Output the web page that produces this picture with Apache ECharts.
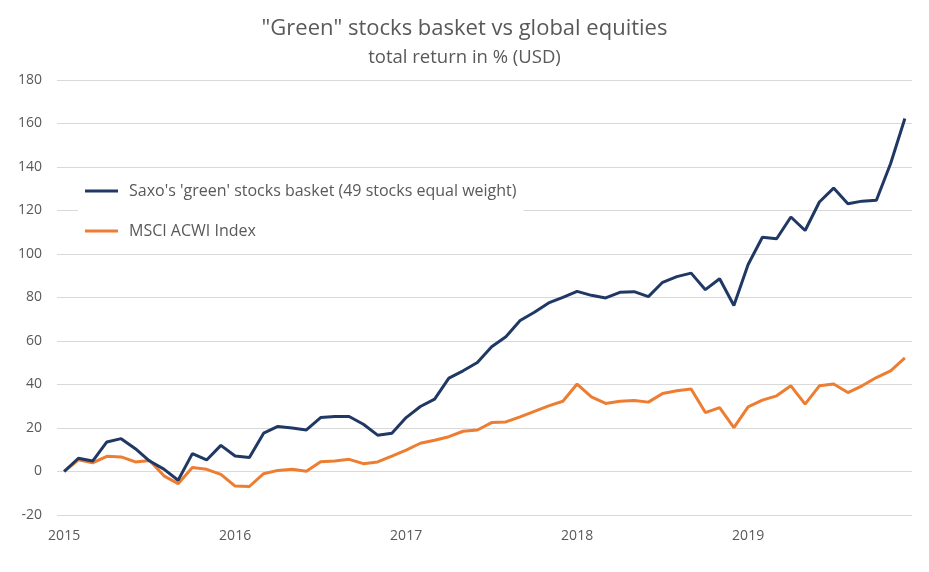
<!DOCTYPE html>
<html>
<head>
<meta charset="utf-8">
<script src="https://cdn.jsdelivr.net/npm/echarts@6/dist/echarts.min.js"></script>
<style>
html,body{margin:0;padding:0;background:#fff;}
#chart{width:929px;height:572px;}
</style>
</head>
<body>
<div id="chart"></div>
<script>
const years = ["2015", "2016", "2017", "2018", "2019"];
const months = ["01","02","03","04","05","06","07","08","09","10","11","12"];
const categories = [];
years.forEach(y => months.forEach(m => categories.push(y + "-" + m)));

const seriesNames = ["Saxo's 'green' stocks basket (49 stocks equal weight)", "MSCI ACWI Index"];

const greenBasket = [
  0, 6.1, 4.8, 13.6, 15.1, 10.5, 4.8, 1.1, -4.0, 8.2, 5.3, 12.0,
  7.1, 6.4, 17.6, 20.7, 20.0, 19.1, 24.8, 25.3, 25.3, 21.7, 16.7, 17.6,
  24.8, 29.9, 33.3, 42.9, 46.3, 50.1, 57.4, 62.0, 69.4, 73.2, 77.5, 80.1,
  82.8, 81.0, 79.8, 82.4, 82.7, 80.4, 87.0, 89.6, 91.2, 83.6, 88.6, 76.3,
  95.2, 107.7, 107.0, 117.0, 110.8, 123.9, 130.3, 123.1, 124.3, 124.7, 141.6, 162.3
];
const msciAcwi = [
  0, 5.4, 4.0, 7.0, 6.7, 4.4, 5.1, -2.0, -5.6, 1.8, 1.0, -1.3,
  -6.7, -6.9, -1.0, 0.5, 1.0, 0.1, 4.5, 4.8, 5.6, 3.6, 4.4, 7.1,
  9.8, 13.0, 14.4, 16.0, 18.5, 19.1, 22.5, 22.8, 25.1, 27.6, 30.2, 32.3,
  40.2, 34.3, 31.3, 32.3, 32.6, 31.9, 35.9, 37.1, 37.9, 27.1, 29.4, 20.2,
  29.7, 32.8, 34.8, 39.4, 31.0, 39.4, 40.2, 36.3, 39.4, 43.2, 46.3, 52.2
];

const yMin = -20, yMax = 180, yStep = 20;

const chart = echarts.init(document.getElementById('chart'));
const font = "'Open Sans', sans-serif";
chart.setOption({
  animation: false,
  backgroundColor: '#ffffff',
  title: [
    { text: '"Green" stocks basket vs global equities', left: 'center', top: 13,
      textStyle: { fontFamily: font, fontSize: 22, fontWeight: 'normal', color: '#595959' } },
    { text: 'total return in % (USD)', left: 'center', top: 43,
      textStyle: { fontFamily: font, fontSize: 18.5, fontWeight: 'normal', color: '#595959' } }
  ],
  grid: { left: 57, right: 17, top: 80, bottom: 57, containLabel: false },
  legend: {
    orient: 'vertical',
    left: 78, top: 173,
    padding: [10, 7, 10, 7],
    backgroundColor: '#ffffff',
    itemWidth: 33, itemHeight: 3, itemGap: 24,
    icon: 'rect',
    textStyle: { fontFamily: font, fontSize: 16, color: '#595959', padding: [0, 0, 0, 6] },
    data: seriesNames
  },
  xAxis: {
    type: 'category',
    data: categories,
    boundaryGap: true,
    axisLine: { show: false },
    axisTick: { show: false },
    splitLine: { show: false },
    axisLabel: {
      interval: (i) => i % 12 === 0,
      formatter: (v) => v.slice(0, 4),
      fontFamily: font, fontSize: 14, color: '#595959', margin: 14
    }
  },
  yAxis: {
    type: 'value',
    min: yMin, max: yMax, interval: yStep,
    axisLine: { show: false },
    axisTick: { show: false },
    axisLabel: { fontFamily: font, fontSize: 14, color: '#595959', margin: 15 },
    splitLine: { lineStyle: { color: '#d9d9d9', width: 1 } }
  },
  series: [
    { name: seriesNames[0], type: 'line', data: greenBasket, showSymbol: false, symbol: 'none',
      lineStyle: { color: '#203864', width: 3 }, itemStyle: { color: '#203864' }, z: 3 },
    { name: seriesNames[1], type: 'line', data: msciAcwi, showSymbol: false, symbol: 'none',
      lineStyle: { color: '#ED7D31', width: 3 }, itemStyle: { color: '#ED7D31' }, z: 2 }
  ]
});
</script>
</body>
</html>
